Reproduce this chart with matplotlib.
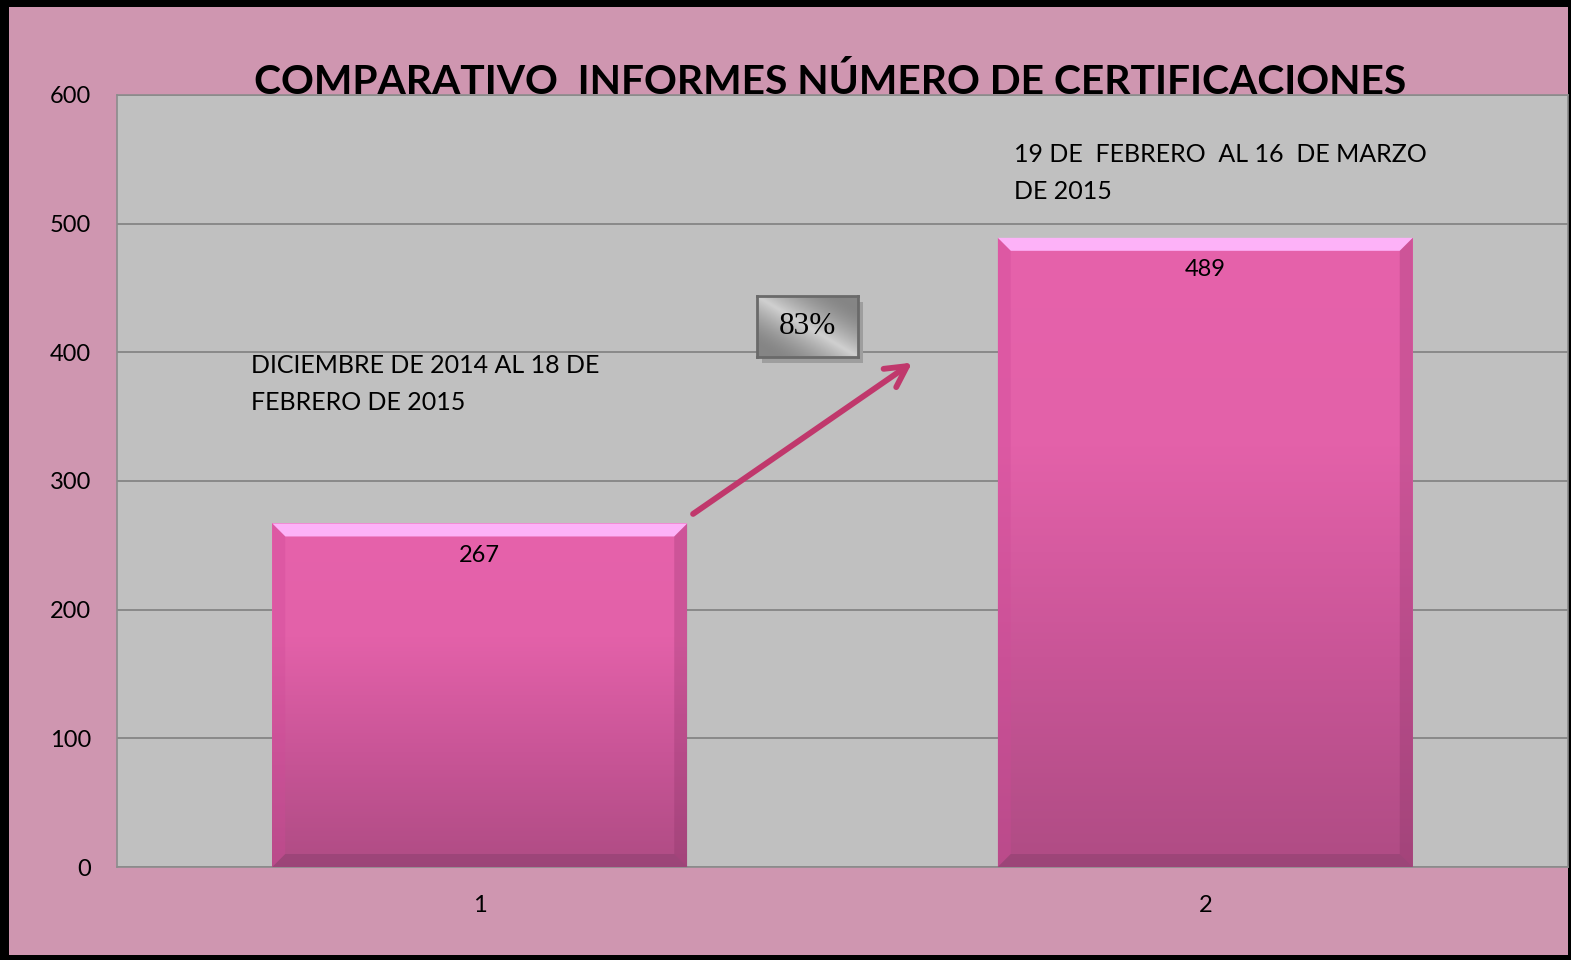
import numpy as np
import matplotlib
matplotlib.use("Agg")
import matplotlib.pyplot as plt
from matplotlib.patches import Rectangle, Polygon
from matplotlib.colors import LinearSegmentedColormap

# ---- data ----
categories = [1, 2]
values = [267, 489]
yticks = [0, 100, 200, 300, 400, 500, 600]
title = "COMPARATIVO  INFORMES NÚMERO DE CERTIFICACIONES"
period1 = "DICIEMBRE DE 2014 AL 18 DE\nFEBRERO DE 2015"
period2 = "19 DE  FEBRERO  AL 16  DE MARZO\nDE 2015"
growth_label = "83%"

W, H = 1571, 960
fig = plt.figure(figsize=(W / 100, H / 100), dpi=100, facecolor="black")
# pink inner panel (black frame around)
fig.patches.append(Rectangle((9 / W, 1 - 955 / H), (1568 - 9) / W, (955 - 7) / H,
                             transform=fig.transFigure, facecolor="#CF96B0",
                             edgecolor="none", zorder=-10))

ax = fig.add_axes([117 / W, 1 - 867 / H, (1568 - 117) / W, (867 - 95) / H])
ax.set_zorder(1)
ax.set_facecolor("#C0C0C0")
ax.set_xlim(0.5, 2.5)
ax.set_ylim(0, 600)
for s in ax.spines.values():
    s.set_color("#8C8C8C")
    s.set_linewidth(1.2)
ax.set_yticks(yticks)
ax.set_xticks(categories)
ax.tick_params(length=0, labelsize=17)
ax.tick_params(axis="y", pad=18.5)
ax.tick_params(axis="x", pad=20.5)
for lab in ax.get_xticklabels() + ax.get_yticklabels():
    lab.set_family("Lato")
ax.grid(axis="y", color="#808080", linewidth=1.2)
ax.set_axisbelow(True)

bw = 0.572
bars = ax.bar(categories, values, width=bw, color="none", edgecolor="none", zorder=2)

# pixel -> data scale
fig.canvas.draw()
bbox = ax.get_window_extent()
px_x = (2.0) / bbox.width
px_y = 600.0 / bbox.height
bx = 13 * px_x
by = 13 * px_y

cmap = LinearSegmentedColormap.from_list("pk", ["#AF4C84", "#C95597", "#E361A9", "#E662AB"])
grad = np.linspace(0, 1, 256).reshape(-1, 1)
for b, v in zip(bars, values):
    x0 = b.get_x()
    x1 = x0 + b.get_width()
    h = b.get_height()
    im = ax.imshow(grad, extent=[x0, x1, 0, h], origin="lower", cmap=cmap,
                   aspect="auto", zorder=3, interpolation="bicubic")
    im.set_clip_path(b)
    # top bevel
    ax.add_patch(Polygon([(x0, h), (x1, h), (x1 - bx, h - by), (x0 + bx, h - by)],
                         closed=True, facecolor="#FDB2F8", edgecolor="none", zorder=4))
    # left bevel
    ax.add_patch(Polygon([(x0, h), (x0 + bx, h - by), (x0 + bx, by), (x0, 0)],
                         closed=True, facecolor="#D04A98", alpha=0.35, edgecolor="none", zorder=4))
    # right bevel
    ax.add_patch(Polygon([(x1, h), (x1 - bx, h - by), (x1 - bx, by), (x1, 0)],
                         closed=True, facecolor="#7A2A5A", alpha=0.22, edgecolor="none", zorder=4))
    # bottom bevel
    ax.add_patch(Polygon([(x0, 0), (x0 + bx, by), (x1 - bx, by), (x1, 0)],
                         closed=True, facecolor="#5A3050", alpha=0.22, edgecolor="none", zorder=4))
    ax.text(b.get_x() + b.get_width() / 2, h - 32 * px_y, str(v), ha="center", va="center",
            fontsize=17, family="Lato", color="black", zorder=6)

ax.text(0.685, 398.5, period1, ha="left", va="top", fontsize=18, family="Lato",
        linespacing=1.72, zorder=6)
ax.text(1.736, 562.5, period2, ha="left", va="top", fontsize=18, family="Lato",
        linespacing=1.72, zorder=6)

# arrow
ax.annotate("", xy=(1.596, 392), xytext=(1.294, 274.4),
            arrowprops=dict(arrowstyle="->,head_length=1.5,head_width=0.8", color="#C0386C",
                            lw=4.2, shrinkA=0, shrinkB=0, capstyle="round",
                            joinstyle="round"), zorder=6)

# 83% box with shadow
bx0, by0, bwid, bhei = 1.382, 396.4, 0.139, 47.4
ax.add_patch(Rectangle((bx0 + 5 * px_x, by0 - 6 * px_y), bwid, bhei, facecolor="#9E9E9E",
                       edgecolor="none", zorder=5))
ins = ax.inset_axes([bx0, by0, bwid, bhei], transform=ax.transData, zorder=7)
yy, xx = np.mgrid[0:1:100j, 0:1:160j]
d = (xx - yy)
field = np.clip(1 - np.abs(d) * 1.3, 0, 1) ** 1.5
field = 0.35 + 0.65 * field
ins.imshow(field, cmap=LinearSegmentedColormap.from_list("g", ["#5E5E5E", "#D0D0D0"]),
           aspect="auto", extent=[0, 1, 0, 1], interpolation="bicubic", vmin=0, vmax=1)
ins.set_xticks([])
ins.set_yticks([])
for s in ins.spines.values():
    s.set_color("#6A6A6A")
    s.set_linewidth(2)
ins.text(0.5, 0.5, growth_label, ha="center", va="center", fontsize=22.5,
         family="Liberation Serif", transform=ins.transAxes)

fig.text(830 / W, 1 - 82 / H, title, ha="center", va="center", fontsize=29.3,
         fontweight="bold", family="Lato", zorder=10)

fig.savefig("out.png", dpi=100, facecolor=fig.get_facecolor())
